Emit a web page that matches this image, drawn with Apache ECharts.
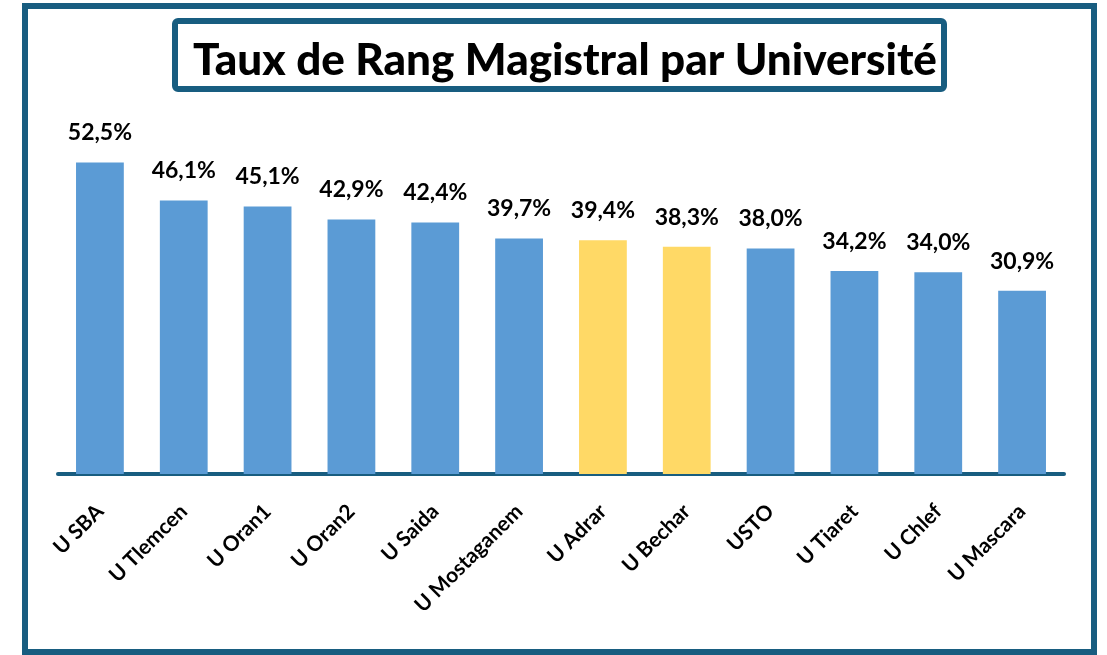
<!DOCTYPE html>
<html>
<head>
<meta charset="utf-8">
<script src="https://cdn.jsdelivr.net/npm/echarts@6/dist/echarts.min.js"></script>
<style>
  html, body { margin: 0; padding: 0; background: #fff; }
  #chart { width: 1107px; height: 655px; }
</style>
</head>
<body>
<div id="chart"></div>
<script>
// Données
const universites = ['U SBA', 'U Tlemcen', 'U Oran1', 'U Oran2', 'U Saida', 'U Mostaganem',
  'U Adrar', 'U Bechar', 'USTO', 'U Tiaret', 'U Chlef', 'U Mascara']
const tauxRang = [52.5, 46.1, 45.1, 42.9, 42.4, 39.7, 39.4, 38.3, 38.0, 34.2, 34.0, 30.9]
const enEvidence = ['U Adrar', 'U Bechar']

const frameColor = '#185d80'
const font = 'Lato, "Open Sans", sans-serif'

const chart = echarts.init(document.getElementById('chart'))

chart.setOption({
  animation: false,
  textStyle: { fontFamily: font },
  title: {
    text: 'Taux de Rang Magistral par Université',
    left: 560,
    top: 56,
    textAlign: 'center',
    textVerticalAlign: 'middle',
    textStyle: {
      fontFamily: font,
      fontSize: 44,
      fontWeight: 900,
      color: '#000'
    }
  },
  graphic: [
    {
      type: 'rect',
      shape: { x: 25, y: 6, width: 1069, height: 646 },
      style: { fill: 'none', stroke: frameColor, lineWidth: 6 },
      z: 0
    },
    {
      type: 'rect',
      shape: { x: 175, y: 21, width: 769, height: 68, r: 3 },
      style: { fill: 'none', stroke: frameColor, lineWidth: 6 },
      z: 0
    }
  ],
  grid: {
    left: 58,
    right: 43,
    top: 118,
    bottom: 181
  },
  xAxis: {
    type: 'category',
    data: universites,
    axisLine: { lineStyle: { color: frameColor, width: 4 } },
    axisTick: { show: false },
    axisLabel: {
      rotate: 45,
      margin: 34,
      interval: 0,
      fontFamily: font,
      fontSize: 21,
      fontWeight: 'bold',
      color: '#000'
    }
  },
  yAxis: {
    type: 'value',
    min: 0,
    max: 60,
    show: false,
    splitLine: { show: false }
  },
  series: [
    {
      type: 'bar',
      barCategoryGap: '43%',
      data: tauxRang.map((v, i) => ({
        value: v,
        itemStyle: { color: enEvidence.includes(universites[i]) ? '#ffd966' : '#5b9bd5' }
      })),
      label: {
        show: true,
        position: 'top',
        distance: 18,
        fontFamily: font,
        fontSize: 23,
        fontWeight: 'bold',
        color: '#000',
        formatter: p => p.value.toFixed(1).replace('.', ',') + '%'
      }
    }
  ]
})
</script>
</body>
</html>
